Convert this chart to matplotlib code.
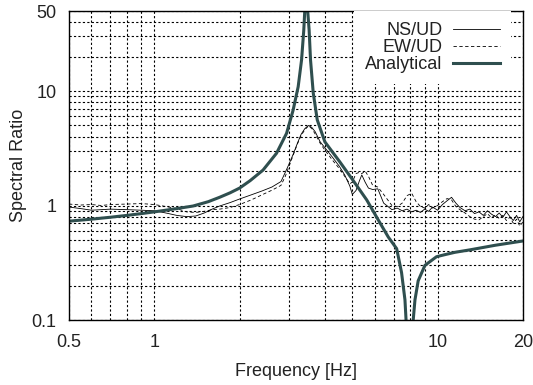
import numpy as np
import matplotlib
matplotlib.use('Agg')
import matplotlib.pyplot as plt
from matplotlib.ticker import FixedLocator, NullFormatter

plt.rcParams['font.family'] = ['Liberation Sans', 'DejaVu Sans']

# spectral ratios
freq = [0.5, 0.55, 0.6, 0.65, 0.7, 0.8, 0.9, 1.0, 1.1, 1.2, 1.3, 1.4, 1.5, 1.6, 1.7,
        1.85, 2.0, 2.2, 2.4, 2.6, 2.8, 2.9, 3.0, 3.1, 3.2, 3.3, 3.4, 3.5, 3.6, 3.7,
        3.85, 4.0, 4.25, 4.5, 4.7, 4.9, 5.0, 5.15, 5.3, 5.4, 5.55, 5.7, 5.9, 6.15,
        6.45, 6.9, 7.2, 7.5, 7.8, 8.1, 8.4, 8.7, 9.0, 9.3, 9.6, 10.0, 10.4, 10.8,
        11.2, 11.6, 12.0, 12.5, 13.0, 13.5, 14.0, 14.5, 15.0, 15.5, 16.0, 16.5,
        17.0, 17.5, 18.0, 18.5, 19.0, 19.5, 20.0]
ns_ud = [0.97, 0.94, 0.91, 0.92, 0.93, 0.92, 0.91, 0.90, 0.86, 0.82, 0.80, 0.81, 0.86,
         0.93, 0.99, 1.06, 1.14, 1.24, 1.34, 1.45, 1.62, 1.95, 2.35, 2.85, 3.5, 4.2,
         4.7, 5.0, 4.8, 4.4, 3.6, 3.2, 2.65, 2.2, 1.85, 1.48, 1.25, 1.35, 1.65, 1.85,
         1.6, 1.42, 1.38, 1.40, 1.05, 0.92, 0.95, 0.90, 0.93, 0.88, 0.91, 0.87, 0.93,
         0.89, 0.97, 0.91, 1.02, 1.10, 1.18, 1.05, 0.96, 0.90, 0.93, 0.85, 0.88, 0.82,
         0.90, 0.84, 0.80, 0.86, 0.79, 0.88, 0.80, 0.74, 0.82, 0.72, 0.80]
ew_ud = [1.03, 1.01, 1.02, 1.00, 1.02, 1.03, 1.04, 1.02, 0.98, 0.94, 0.88, 0.87, 0.89,
         0.92, 0.93, 0.96, 1.02, 1.12, 1.24, 1.36, 1.50, 1.80, 2.25, 2.8, 3.45, 4.1,
         4.6, 4.95, 4.7, 4.2, 3.5, 3.05, 2.5, 2.1, 1.8, 1.55, 1.6, 1.9, 1.95, 1.9,
         2.0, 1.8, 1.5, 1.45, 1.25, 1.0, 0.98, 1.05, 1.22, 1.28, 1.08, 0.98, 0.95,
         1.02, 0.95, 1.00, 1.08, 1.15, 1.12, 0.98, 0.92, 0.86, 0.80, 0.76, 0.75, 0.80,
         0.85, 0.78, 0.83, 0.77, 0.82, 0.74, 0.79, 0.70, 0.76, 0.66, 0.72]

freq_an = [0.5, 0.6, 0.7, 0.8, 0.9, 1.0, 1.2, 1.37, 1.55, 1.7, 1.85, 2.0, 2.18, 2.42,
           2.7, 2.93, 3.09, 3.22, 3.31, 3.37, 3.43, 3.52, 3.56, 3.64, 3.76, 4.0, 4.52,
           5.02, 5.62, 6.17, 6.7, 7.17, 7.46, 7.67, 7.8, 7.95, 8.1, 8.32, 8.54, 9.02,
           9.91, 10.5, 11.5, 13.0, 16.0, 20.0]
analytical = [0.73, 0.76, 0.79, 0.82, 0.85, 0.88, 0.94, 0.99, 1.08, 1.18, 1.29, 1.42,
              1.65, 2.04, 2.86, 4.27, 6.8, 10.9, 18.7, 34, 80, 34, 18.7, 9.6, 5.6, 3.6,
              2.4, 1.67, 1.12, 0.75, 0.53, 0.42, 0.26, 0.15, 0.07, 0.02, 0.07, 0.15,
              0.22, 0.30, 0.357, 0.37, 0.39, 0.41, 0.45, 0.49]

fig = plt.figure(figsize=(5.33, 3.85), dpi=100)
ax = fig.add_axes([0.1295, 0.1688, 0.8515, 0.8026])

ax.plot(freq, ns_ud, color='black', lw=0.6, label='NS/UD')
ax.plot(freq, ew_ud, color='black', lw=0.6, ls=(0, (4, 3)), label='EW/UD')
ax.plot(freq_an, analytical, color='#2f4f4f', lw=2.2, label='Analytical')

ax.set_xscale('log')
ax.set_yscale('log')
ax.set_xlim(0.5, 20)
ax.set_ylim(0.1, 50)

ax.xaxis.set_major_locator(FixedLocator([0.5, 1, 10, 20]))
ax.set_xticklabels(['0.5', '1', '10', '20'])
ax.xaxis.set_minor_locator(FixedLocator([0.6, 0.7, 0.8, 0.9, 2, 3, 4, 5, 6, 7, 8, 9]))
ax.xaxis.set_minor_formatter(NullFormatter())
ax.yaxis.set_major_locator(FixedLocator([0.1, 1, 10, 50]))
ax.set_yticklabels(['0.1', '1', '10', '50'])
ax.yaxis.set_minor_locator(FixedLocator([0.2, 0.3, 0.4, 0.5, 0.6, 0.7, 0.8, 0.9,
                                         2, 3, 4, 5, 6, 7, 8, 9, 20, 30, 40]))
ax.yaxis.set_minor_formatter(NullFormatter())

ax.grid(True, which='both', color='black', lw=0.8, ls=(0, (2, 2)))
ax.set_axisbelow(True)
ax.tick_params(which='both', direction='in', length=0, labelsize=13, colors='#222222')
ax.tick_params(axis='x', pad=10)
ax.tick_params(axis='y', pad=9)
for s in ax.spines.values():
    s.set_linewidth(1.0)

ax.set_xlabel('Frequency [Hz]', fontsize=13, color='#222222', labelpad=9)
ax.set_ylabel('Spectral Ratio', fontsize=13, color='#222222', labelpad=3)

leg = ax.legend(loc='upper right', bbox_to_anchor=(442 / 454, 1.0), markerfirst=False,
                fontsize=13, frameon=True, facecolor='white', edgecolor='none',
                framealpha=1, fancybox=False, handlelength=2.6, handletextpad=0.6,
                labelspacing=0.0, borderaxespad=0.0, borderpad=0.6)
for t in leg.get_texts():
    t.set_color('#222222')

fig.savefig('out.png', dpi=100)
